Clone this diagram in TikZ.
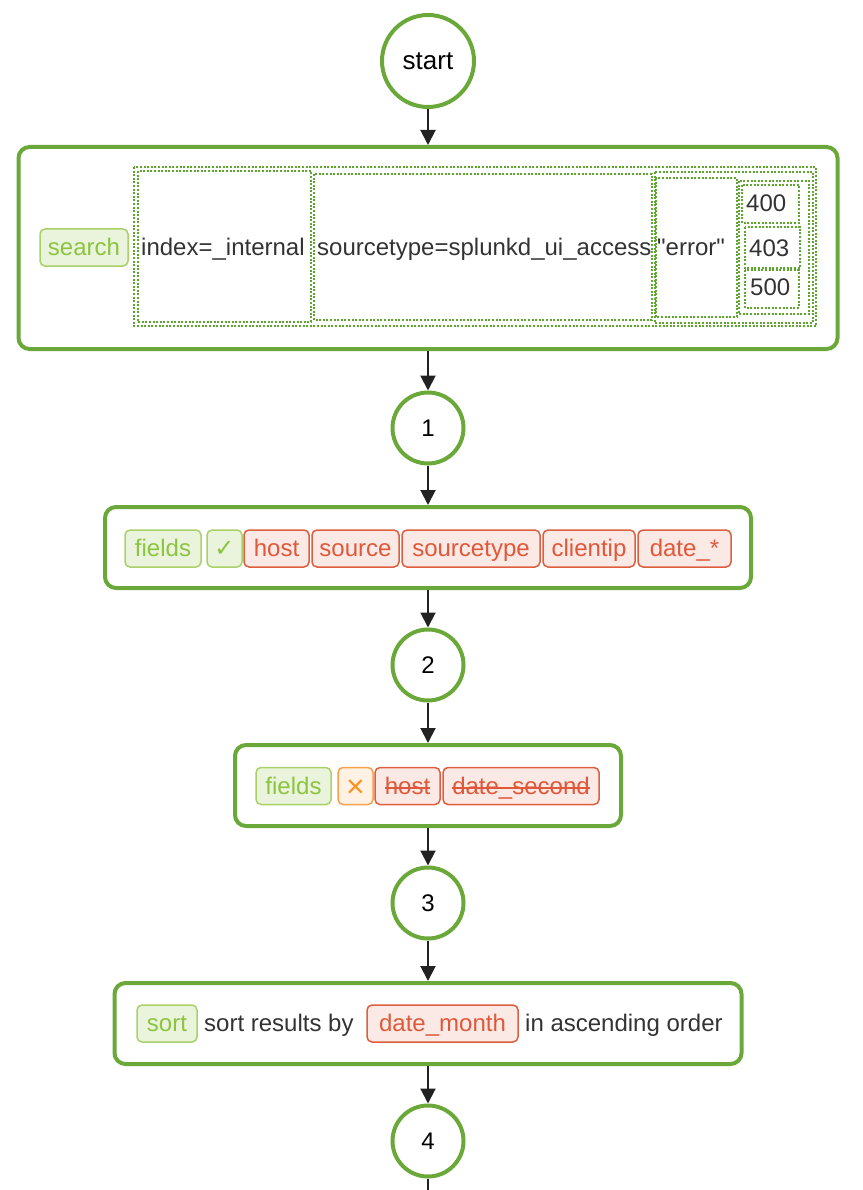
\documentclass[tikz,border=0pt]{standalone}
\usepackage{fontspec}
\setmainfont{Liberation Sans}
\newfontfamily\symfont{DejaVu Sans}
\newfontfamily\plainsans{Liberation Sans}[Ligatures=TeXOff]
\usetikzlibrary{arrows.meta}

% text with a line drawn through it
\newsavebox{\strikebox}
\newcommand{\strikedtext}[1]{\sbox{\strikebox}{#1}%
  \rlap{\raisebox{0.22em}{\rule{\wd\strikebox}{1.6pt}}}\usebox{\strikebox}}

\definecolor{flowgreen}{HTML}{6AA839}
\definecolor{dotgreen}{HTML}{5FA630}
\definecolor{inkgray}{HTML}{333333}
\definecolor{arrowink}{HTML}{222222}
\definecolor{cmdfill}{HTML}{EAF3DC}
\definecolor{cmddraw}{HTML}{A9D167}
\definecolor{cmdtext}{HTML}{8CC43F}
\definecolor{fieldfill}{HTML}{FBE9E5}
\definecolor{fielddraw}{HTML}{DE5F3F}
\definecolor{fieldtext}{HTML}{E0583A}
\definecolor{negfill}{HTML}{FFF1E3}
\definecolor{negdraw}{HTML}{F7A24B}
\definecolor{negtext}{HTML}{F7931E}

\begin{document}
\begin{tikzpicture}[x=1pt,y=-1pt,
  font=\fontsize{24}{28}\selectfont,
  every node/.style={text=inkgray},
  stage/.style={rectangle, draw=flowgreen, line width=4pt, rounded corners=11pt, inner sep=0pt},
  state/.style={circle, draw=flowgreen, line width=4pt, fill=white, inner sep=0pt, minimum size=71pt, text=black},
  tag/.style={rectangle, rounded corners=5pt, line width=1.5pt, minimum height=37pt, inner sep=0pt, text height=17pt, text depth=1pt},
  cmdtag/.style={tag, fill=cmdfill, draw=cmddraw, text=cmdtext},
  fieldtag/.style={tag, fill=fieldfill, draw=fielddraw, text=fieldtext},
  negtag/.style={tag, fill=negfill, draw=negdraw, text=negtext},
  label/.style={inner sep=0pt, text height=17pt, text depth=1pt, anchor=west},
  flow/.style={draw=arrowink, line width=2pt, -{Triangle[length=15pt,width=15pt]}},
  tail/.style={draw=arrowink, line width=2pt},
  dotbox/.style={draw=dotgreen, line width=2pt, dash pattern=on 2pt off 1.6pt}
]
\useasboundingbox (0,0) rectangle (862,1190);

% states
\node[state, minimum size=92pt, font=\fontsize{26}{30}\selectfont] (start) at (428,61) {start};
\node[state] (s1) at (428,428) {1};
\node[state] (s2) at (428,665) {2};
\node[state] (s3) at (428,903) {3};
\node[state] (s4) at (428,1141) {4};
\coordinate (tailend) at (428,1192);

% stage frames
\node[stage, minimum width=819pt, minimum height=202pt] (search) at (428,248) {};
\node[stage, minimum width=646pt, minimum height=81pt] (keep) at (428,547.5) {};
\node[stage, minimum width=386pt, minimum height=81pt] (drop) at (428,785.5) {};
\node[stage, minimum width=627pt, minimum height=81pt] (sort) at (428,1023.5) {};

% search stage: grouped terms
\draw[dotbox] (134,167) rectangle (816,326);
\draw[dotbox] (138,171) rectangle (311,322);
\draw[dotbox] (314,174) rectangle (652,320);
\draw[dotbox] (655,172) rectangle (813,323);
\draw[dotbox] (656,178) rectangle (737,317);
\draw[dotbox] (739,181) rectangle (809,314);
\draw[dotbox] (742,185) rectangle (799,223);
\draw[dotbox] (745,227) rectangle (800,268);
\draw[dotbox] (745,270) rectangle (799,308);

\node[cmdtag, minimum width=88pt] (searchcmd) at (84,247.5) {search};
\node[label] (idx) at (141,247) {index=\_internal};
\node[label] (stype) at (317,247) {sourcetype=splunkd\_ui\_access};
\node[label] (err) at (657,247) {\plainsans "error"};
\node[label] (c400) at (746,204) {400};
\node[label] (c403) at (749,248) {403};
\node[label] (c500) at (750,287) {500};

% fields (keep)
\node[cmdtag, minimum width=76pt] (f1cmd) at (163,548.5) {fields};
\node[cmdtag, minimum width=35pt] (f1plus) at (224.5,548.5) {\symfont ✓};
\node[fieldtag, minimum width=65pt] (f1host) at (276.5,548.5) {host};
\node[fieldtag, minimum width=87pt] (f1src) at (355.5,548.5) {source};
\node[fieldtag, minimum width=138pt] (f1stype) at (471,548.5) {sourcetype};
\node[fieldtag, minimum width=92pt] (f1ip) at (589,548.5) {clientip};
\node[fieldtag, minimum width=93pt] (f1date) at (684.5,548.5) {date\_*};

% fields (remove)
\node[cmdtag, minimum width=75pt] (f2cmd) at (293.5,786) {fields};
\node[negtag, minimum width=35pt, font=\fontsize{32}{34}\selectfont] (f2minus) at (355.5,786) {\raisebox{-3pt}{×}};
\node[fieldtag, minimum width=65pt] (f2host) at (407.5,786) {\strikedtext{host}};
\node[fieldtag, minimum width=156pt] (f2sec) at (521,786) {\strikedtext{date\_second}};

% sort
\node[cmdtag, minimum width=60pt] (sortcmd) at (167,1023.5) {sort};
\node[label] (sorttxt) at (204,1023.5) {sort results by};
\node[fieldtag, minimum width=151pt] (sortfield) at (442.5,1023.5) {date\_month};
\node[label] (ordertxt) at (525,1023.5) {in ascending order};

% connectors
\draw[flow] (start) -- (search);
\draw[flow] (search) -- (s1);
\draw[flow] (s1) -- (keep);
\draw[flow] (keep) -- (s2);
\draw[flow] (s2) -- (drop);
\draw[flow] (drop) -- (s3);
\draw[flow] (s3) -- (sort);
\draw[flow] (sort) -- (s4);
\draw[tail] (s4) -- (tailend);
\end{tikzpicture}
\end{document}
